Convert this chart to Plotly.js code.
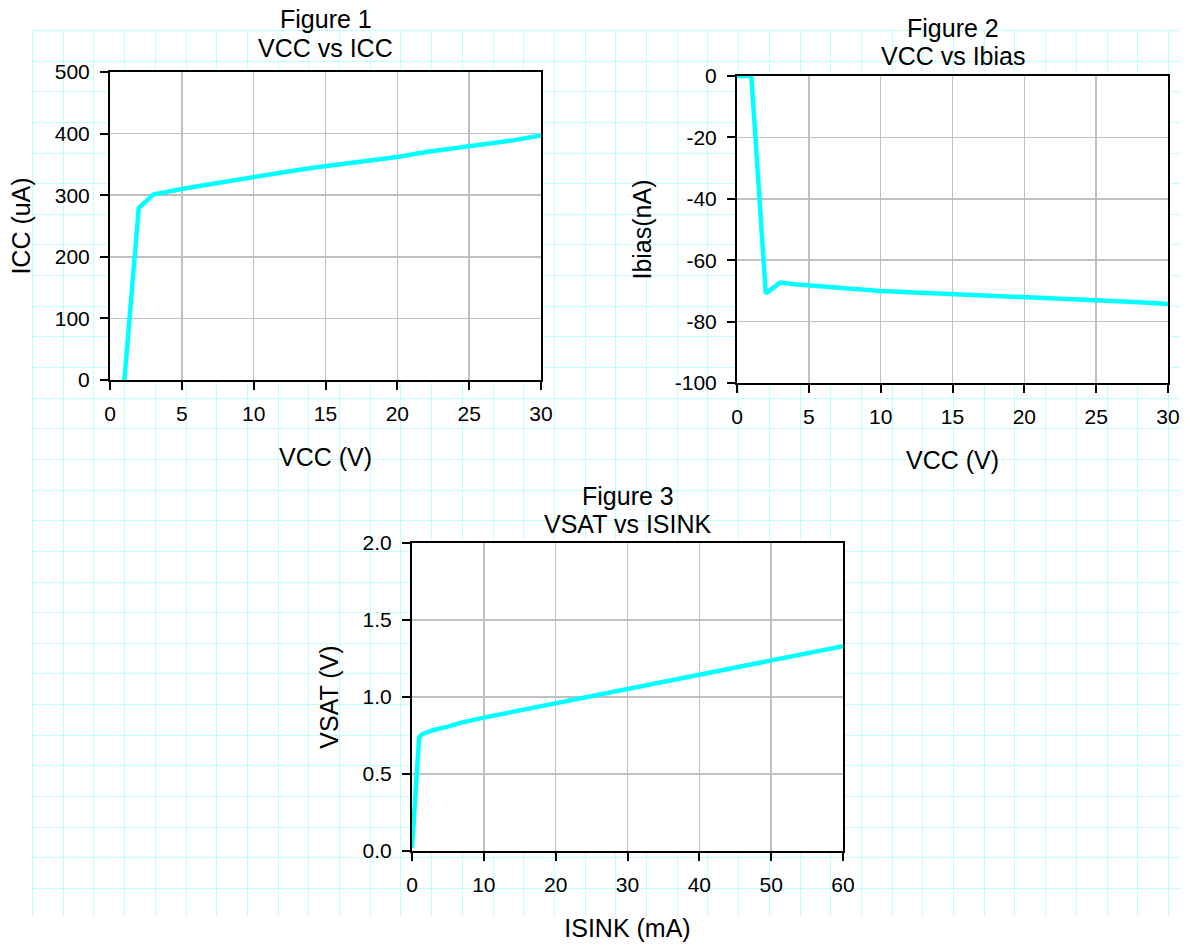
<!DOCTYPE html>
<html><head><meta charset="utf-8">
<script src="https://cdn.plot.ly/plotly-3.0.1.min.js"></script>
<style>html,body{margin:0;padding:0;background:#fff}</style>
</head><body><div id="chart" style="width:1190px;height:947px"></div>
<script>
// Figure 1: VCC vs ICC
const fig1Vcc = [1, 2, 3, 4, 5, 6, 8, 10, 12, 14, 16, 18, 20, 22, 24, 26, 28, 30];
const fig1Icc = [0, 279, 301, 306, 310, 314, 322, 330, 337, 344, 350, 356, 362, 370, 376, 382, 389, 397];
// Figure 2: VCC vs Ibias
const fig2Vcc = [0, 1, 2, 3, 4, 5, 6, 8, 10, 12, 14, 16, 18, 20, 22, 24, 26, 28, 30];
const fig2Ibias = [0, 0, -70.8, -67.3, -67.8, -68.2, -68.7, -69.4, -70, -70.4, -70.8, -71.2, -71.5, -71.8, -72.2, -72.6, -73, -73.7, -74.3];
const fig2TickVals = [0, -20, -40, -60, -80, -100];
const fig2TickText = ["0", "-20", "-40", "-60", "-80", "-100"];
// Figure 3: VSAT vs ISINK
const fig3Isink = [0, 1, 1.5, 3, 5, 7, 10, 15, 20, 25, 30, 35, 40, 45, 50, 55, 60];
const fig3Vsat = [0.02, 0.74, 0.76, 0.786, 0.808, 0.835, 0.866, 0.913, 0.958, 1.005, 1.05, 1.097, 1.143, 1.19, 1.238, 1.284, 1.33];

const titles = [
  ["Figure 1", "VCC vs ICC"],
  ["Figure 2", "VCC vs Ibias"],
  ["Figure 3", "VSAT vs ISINK"]
];
const axisTitles = {
  x1: "VCC (V)", y1: "ICC (uA)",
  x2: "VCC (V)", y2: "Ibias(nA)",
  x3: "ISINK (mA)", y3: "VSAT (V)"
};

const W = 1190, H = 947;
const FONT = "Liberation Sans, Arial, Helvetica, sans-serif";
const px = v => v / W;
const py = v => 1 - v / H;

function axis(extra) {
  return Object.assign({
    showline: true, mirror: true, linecolor: '#000', linewidth: 2,
    ticks: 'outside', ticklen: 8, tickwidth: 2, tickcolor: '#000',
    showgrid: true, gridcolor: '#c0c0c0', gridwidth: 1.5,
    zeroline: false, fixedrange: true, automargin: false,
    tickfont: {family: FONT, size: 21, color: '#000'},
    ticklabelstandoff: 6
  }, extra);
}
function atitle(text, standoff) {
  return {text: text, font: {family: FONT, size: 25, color: '#000'}, standoff: standoff};
}

const lineStyle = {color: '#00ffff', width: 4.5};
const traces = [
  {x: fig1Vcc, y: fig1Icc, xaxis: 'x', yaxis: 'y', mode: 'lines', line: lineStyle, hoverinfo: 'skip', showlegend: false},
  {x: fig2Vcc, y: fig2Ibias, xaxis: 'x2', yaxis: 'y2', mode: 'lines', line: lineStyle, hoverinfo: 'skip', showlegend: false},
  {x: fig3Isink, y: fig3Vsat, xaxis: 'x3', yaxis: 'y3', mode: 'lines', line: lineStyle, hoverinfo: 'skip', showlegend: false}
];

// background spreadsheet grid (decoration)
const shapes = [];
const gx0 = 32, gx1 = 1180, gy0 = 30, gy1 = 916, cw = 30.7, ch = 30.64;
const snap = v => Math.round(v) + 0.5;
for (let i = 0; i <= 37; i++) {
  const x = snap(gx0 + i * cw);
  shapes.push({type: 'line', xref: 'paper', yref: 'paper', x0: px(x), x1: px(x), y0: py(gy0), y1: py(gy1),
    line: {color: '#c0ffff', width: 1}, layer: 'below'});
}
for (let j = 0; j <= 28; j++) {
  const y = snap(gy0 + j * ch);
  shapes.push({type: 'line', xref: 'paper', yref: 'paper', x0: px(gx0), x1: px(gx1), y0: py(y), y1: py(y),
    line: {color: '#c0ffff', width: 1}, layer: 'below'});
}
['', '2', '3'].forEach(s => {
  shapes.push({type: 'rect', xref: 'x' + s + ' domain', yref: 'y' + s + ' domain', x0: 0, x1: 1, y0: 0, y1: 1,
    fillcolor: '#ffffff', line: {width: 0}, layer: 'below'});
});

const titlePos = [
  {x: 325.5, y1: 19, y2: 48},
  {x: 952.5, y1: 28, y2: 56},
  {x: 627.5, y1: 496, y2: 524}
];
const annotations = [];
titles.forEach((t, k) => {
  annotations.push({text: t[0], xref: 'paper', yref: 'paper', x: px(titlePos[k].x), y: py(titlePos[k].y1),
    xanchor: 'center', yanchor: 'middle', showarrow: false, font: {family: FONT, size: 25, color: '#000'}});
  annotations.push({text: t[1], xref: 'paper', yref: 'paper', x: px(titlePos[k].x), y: py(titlePos[k].y2),
    xanchor: 'center', yanchor: 'middle', showarrow: false, font: {family: FONT, size: 25, color: '#000'}});
});

const layout = {
  width: W, height: H,
  margin: {l: 0, r: 0, t: 0, b: 0},
  paper_bgcolor: '#ffffff', plot_bgcolor: '#ffffff',
  showlegend: false,
  xaxis: axis({domain: [px(110), px(541)], range: [0, 30], dtick: 5, anchor: 'y', title: atitle(axisTitles.x1, 24)}),
  yaxis: axis({domain: [py(380), py(72)], range: [0, 500], dtick: 100, anchor: 'x', title: atitle(axisTitles.y1, 17)}),
  xaxis2: axis({domain: [px(737), px(1168)], range: [0, 30], dtick: 5, anchor: 'y2', title: atitle(axisTitles.x2, 24)}),
  yaxis2: axis({domain: [py(383), py(76)], range: [-100, 0], tickmode: 'array', tickvals: fig2TickVals, ticktext: fig2TickText, anchor: 'x2', title: atitle(axisTitles.y2, 16)}),
  xaxis3: axis({domain: [px(412), px(843)], range: [0, 60], dtick: 10, anchor: 'y3', title: atitle(axisTitles.x3, 24)}),
  yaxis3: axis({domain: [py(851), py(543)], range: [0, 2], dtick: 0.5, tickformat: '.1f', anchor: 'x3', title: atitle(axisTitles.y3, 17)}),
  shapes: shapes,
  annotations: annotations
};

Plotly.newPlot('chart', traces, layout, {displayModeBar: false, staticPlot: true});
</script>
</body></html>
